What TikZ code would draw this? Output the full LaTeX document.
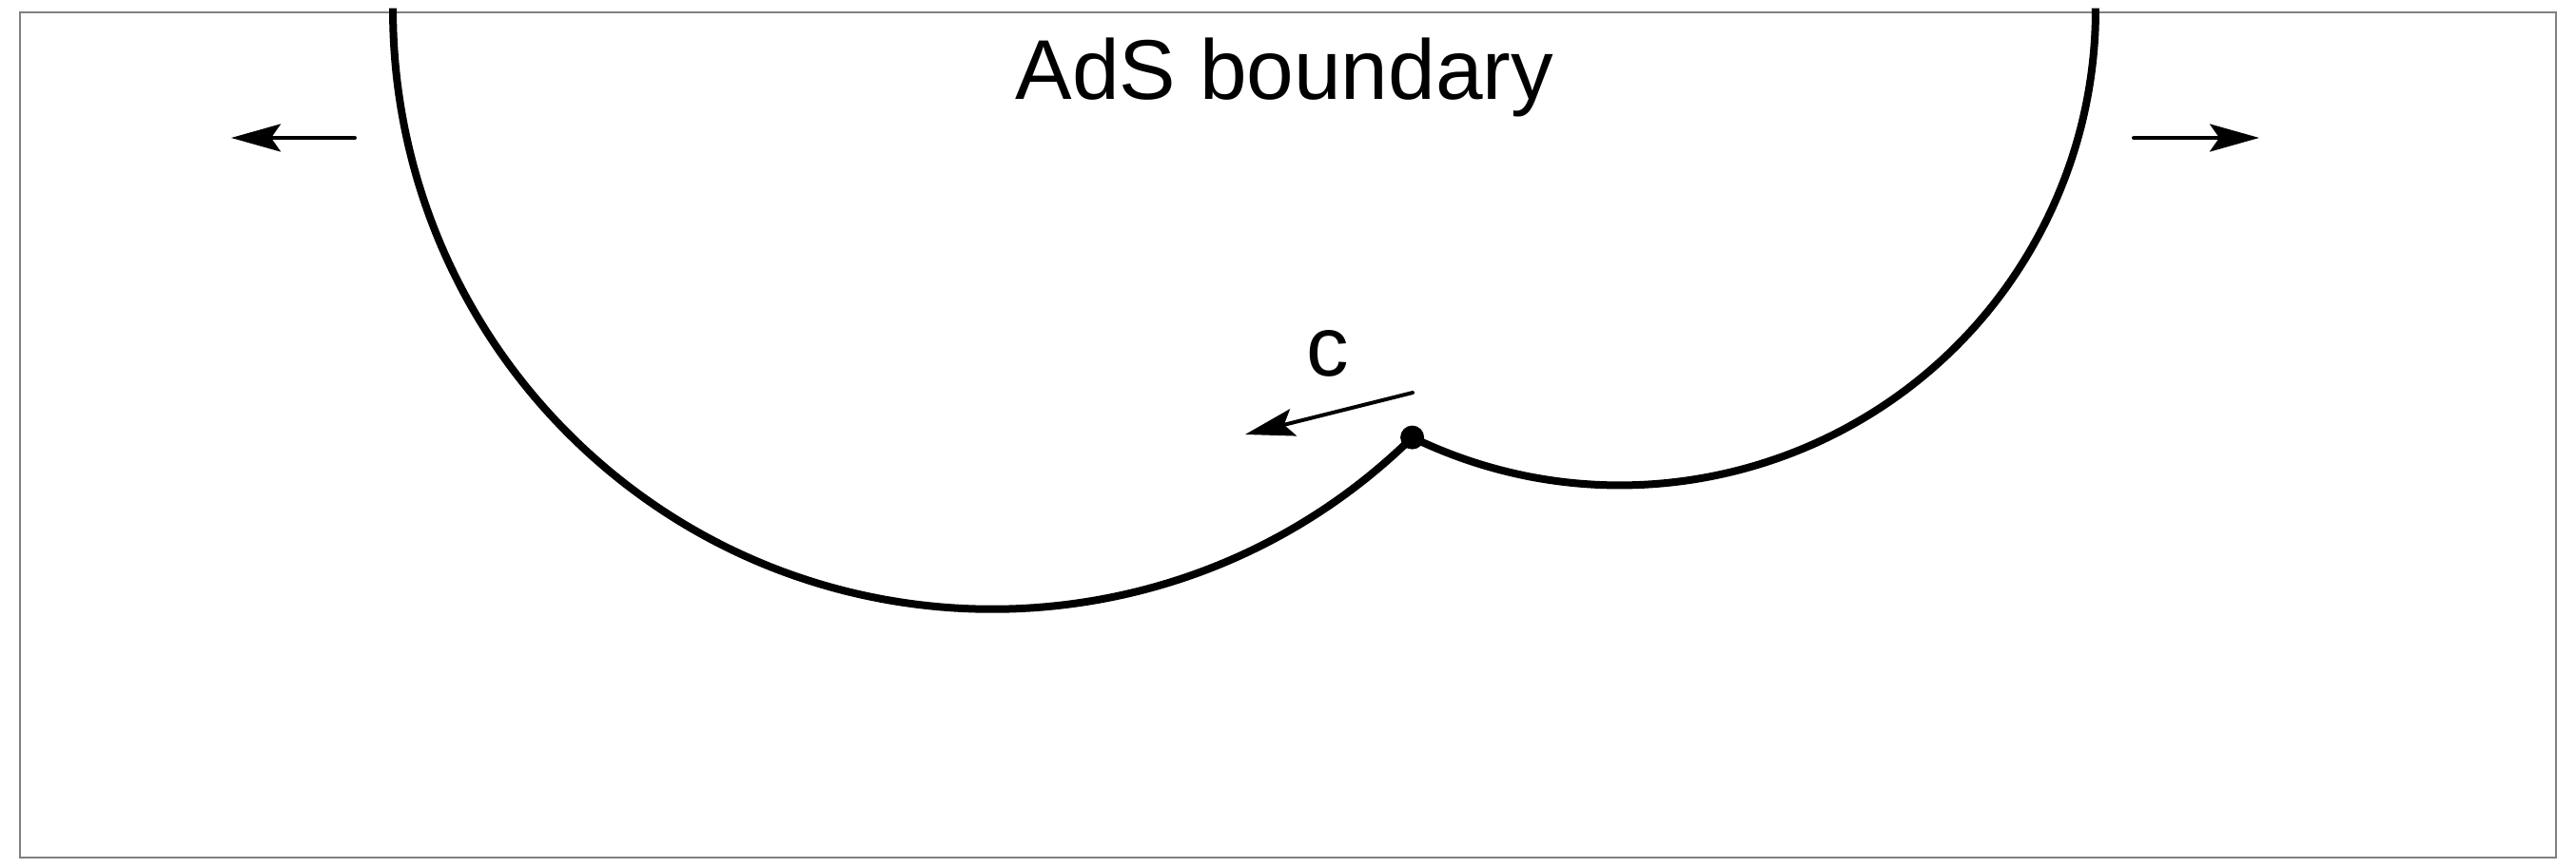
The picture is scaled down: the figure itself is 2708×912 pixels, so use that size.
\documentclass[tikz,border=0pt]{standalone}
\usepackage{fontspec}
\setmainfont{Liberation Sans}
\usetikzlibrary{arrows.meta}
\begin{document}
\begin{tikzpicture}[x=0.25pt,y=0.25pt,
  frame/.style={draw=black!50, line width=0.5pt},
  bulk/.style={line width=2pt},
  move/.style={line width=1pt, line cap=round, -{Stealth[length=13pt,width=7.25pt,inset=2.5pt]}},
  lab/.style={font=\fontsize{22.3pt}{26pt}\selectfont, inner sep=0pt, anchor=base}]
\useasboundingbox (0,0) rectangle (2708,912);
\draw[frame] (20.7,10.3) rectangle (2686.7,899.3);
% junction point
\node[circle, fill, inner sep=0pt, minimum size=6.25pt] (J) at (1484.6,451.9) {};
\draw[bulk] (J.center) arc[start angle=-45.5, end angle=-180.2, radius=157.5pt];
\draw[bulk] (J.center) arc[start angle=-115.9, end angle=0.2, radius=125pt];
% arrows
\coordinate (l0) at (373,767);
\coordinate (l1) at (243,767);
\coordinate (r0) at (2243,767);
\coordinate (r1) at (2375,767);
\coordinate (c0) at (1485,499);
\coordinate (c1) at (1309,455);
\draw[move] (l0) -- (l1);
\draw[move] (r0) -- (r1);
\draw[move] (c0) -- (c1);
% labels
\node[lab] (title) at (1350.5,807) {AdS boundary};
\node[lab] (clab) at (1396,516) {c};
\end{tikzpicture}
\end{document}
